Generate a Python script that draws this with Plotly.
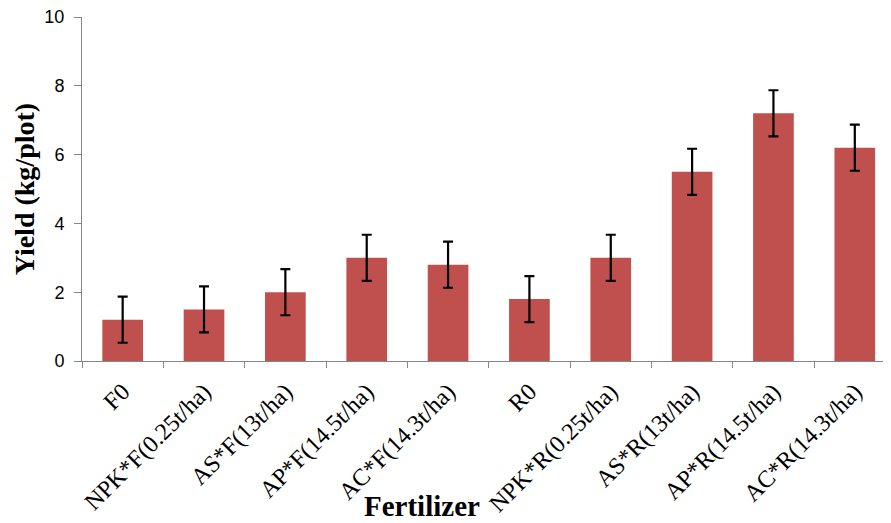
import plotly.graph_objects as go

categories = ["F0", "NPK*F(0.25t/ha)", "AS*F(13t/ha)", "AP*F(14.5t/ha)", "AC*F(14.3t/ha)",
              "R0", "NPK*R(0.25t/ha)", "AS*R(13t/ha)", "AP*R(14.5t/ha)", "AC*R(14.3t/ha)"]
yield_vals = [1.2, 1.5, 2.0, 3.0, 2.8, 1.8, 3.0, 5.5, 7.2, 6.2]
errors = [0.67, 0.67, 0.67, 0.67, 0.67, 0.67, 0.67, 0.67, 0.67, 0.67]
y_ticks = [0, 2, 4, 6, 8, 10]

fig = go.Figure()
fig.add_trace(go.Bar(
    x=categories, y=yield_vals,
    marker=dict(color="#C0504D", line=dict(width=0)),
    width=0.5,
    error_y=dict(type="data", array=errors, visible=True, color="black", thickness=2.2, width=5),
))

# the page body has an 8px default margin; size the figure so it fills the 891x523 window
OFF = 8
W, H = 891 - OFF, 523 - OFF
# plot-area edges in window pixels
left, top, bottom, right = 81.5, 17, 361.5, 891
ml, mt, mb, mr = left - OFF, top - OFF, (523 - bottom), 891 - right
pw = right - left
ph = bottom - top


def px_x(x):
    return (x - left) / pw


def px_y(y):
    return (bottom - y) / ph


fig.update_layout(
    width=W, height=H,
    margin=dict(l=ml, r=mr, t=mt, b=mb, pad=0, autoexpand=False),
    plot_bgcolor="white", paper_bgcolor="white",
    showlegend=False,
    bargap=0.5,
    xaxis=dict(
        type="category",
        range=[-0.5, 9.445],
        automargin=False,
        showline=True, linecolor="#868686", linewidth=1,
        ticks="outside", tickson="boundaries", ticklen=6, tickcolor="#868686",
        tickangle=-45,
        ticklabelstandoff=6,
        ticklabeloverflow="allow",
        tickfont=dict(family="Liberation Serif", size=24, color="black"),
        showgrid=False, zeroline=False,
    ),
    yaxis=dict(
        range=[0, 10], tickvals=y_ticks,
        automargin=False,
        showline=True, linecolor="#868686", linewidth=1,
        ticks="outside", ticklen=7, tickcolor="#868686",
        ticklabelstandoff=6,
        ticklabeloverflow="allow",
        tickfont=dict(family="Liberation Sans", size=18, color="black"),
        showgrid=False, zeroline=False,
    ),
    annotations=[
        dict(
            text="<b>Fertilizer</b>", x=px_x(422), y=px_y(507), xref="paper", yref="paper",
            xanchor="center", yanchor="middle", showarrow=False,
            font=dict(family="Liberation Serif", size=29, color="black"),
        ),
        dict(
            text="<b>Yield (kg/plot)</b>", x=px_x(24), y=px_y(190), xref="paper", yref="paper",
            xanchor="center", yanchor="middle", showarrow=False, textangle=-90,
            font=dict(family="Liberation Serif", size=28, color="black"),
        ),
    ],
)

fig.write_html("out.html")
